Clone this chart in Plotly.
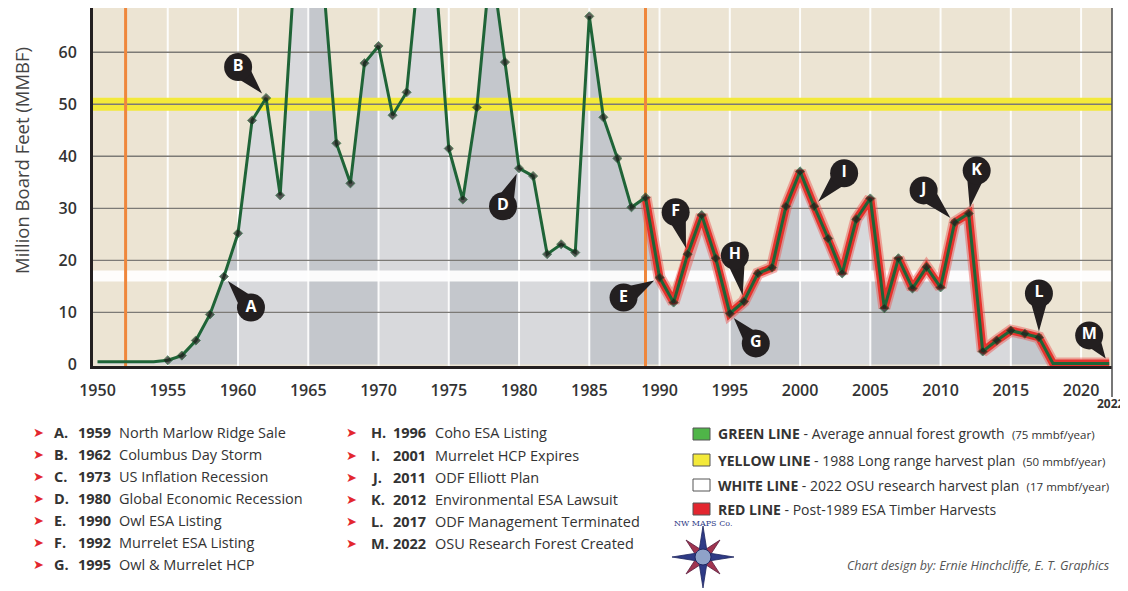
import plotly.graph_objects as go
import numpy as np

# ---------------- data ----------------
years = list(range(1950, 2023))
harvest_mmbf = [0.5, 0.5, 0.5, 0.5, 0.5,
                0.8, 1.7, 4.6, 9.6, 16.9,
                25.2, 46.9, 51.2, 32.5, 75.0,
                85.0, 76.0, 42.5, 34.8, 57.9,
                61.2, 47.9, 52.3, 80.0, 77.0,
                41.5, 31.7, 49.4, 78.0, 58.1,
                37.7, 36.2, 21.2, 23.1, 21.5,
                66.9, 47.5, 39.6, 30.2, 32.1,
                16.7, 11.9, 21.2, 28.7, 20.4,
                9.8, 12.1, 17.5, 18.6, 30.4,
                37.1, 30.4, 24.2, 17.5, 27.9,
                31.9, 10.8, 20.4, 14.6, 18.7,
                14.8, 27.3, 29.0, 2.5, 4.6,
                6.5, 5.9, 5.2, 0.2, 0.2,
                0.2, 0.2, 0.2]

event_letters = ["A", "B", "C", "D", "E", "F", "G", "H", "I", "J", "K", "L", "M"]
event_years = [1959, 1962, 1973, 1980, 1990, 1992, 1995, 1996, 2001, 2011, 2012, 2017, 2022]
event_labels = ["North Marlow Ridge Sale", "Columbus Day Storm", "US Inflation Recession",
                "Global Economic Recession", "Owl ESA Listing", "Murrelet ESA Listing",
                "Owl & Murrelet HCP", "Coho ESA Listing", "Murrelet HCP Expires",
                "ODF Elliott Plan", "Environmental ESA Lawsuit", "ODF Management Terminated",
                "OSU Research Forest Created"]

x_ticks = list(range(1950, 2021, 5))
y_ticks = [0, 10, 20, 30, 40, 50, 60]
esa_start_year = 1989
first_marker_year = 1952
plan_1988 = 50
osu_plan = 17

legend_keys = ["GREEN LINE", "YELLOW LINE", "WHITE LINE", "RED LINE"]
legend_desc = ["Average annual forest growth", "1988 Long range harvest plan",
               "2022 OSU research harvest plan", "Post-1989 ESA Timber Harvests"]
legend_note = ["(75 mmbf/year)", "(50 mmbf/year)", "(17 mmbf/year)", ""]

# ---------------- styling / layout constants (reference-window pixels) ----------------
WIN_W, WIN_H = 1128, 591
BODY = 8  # default page body margin
PL, PR, PT, PB = 93, 1112, 8, 366
X0, X1 = 1949.68, 2022.2
Y0, Y1 = -0.3, 68.5
XS = (PR - PL) / (X1 - X0)
YS = (PB - PT) / (Y1 - Y0)

BEIGE = "#ece4d3"
GRAY_DARK = "#c4c7cc"
GRAY_LIGHT = "#d8d9dc"
GREEN = "#1f6437"
RED = "#e5332d"
ORANGE = "#ef873c"
YELLOW = "#f3e93a"
GRID = "#7c7a76"
FONT = "Open Sans"
TXT = "#333333"

legend_colors = ["#4fb548", YELLOW, "#ffffff", "#e3262f"]
pin_offsets = {"A": (27, 31), "B": (-28, -31), "D": (-16, 38), "E": (-36, 20),
               "F": (-12, -42), "G": (26, 30), "H": (-9, -46), "I": (30, -33),
               "J": (-31, -32), "K": (8, -43), "L": (0, -44), "M": (-20, -28)}


def to_px(x, y):
    return PL + (x - X0) * XS, PB - (y - Y0) * YS


def to_data(px_, py_):
    return X0 + (px_ - PL) / XS, Y0 + (PB - py_) / YS


def pxp(x):
    return (x - PL) / (PR - PL)


def pyp(y):
    return (PB - y) / (PB - PT)


fig = go.Figure()

# area under the curve, alternating 5-year bands
for b in range(1950, 2022, 5):
    e = min(b + 5, 2022)
    xs = [b] + [yr for yr in years if b < yr < e] + [e]
    ys = list(np.interp(xs, years, harvest_mmbf))
    col = GRAY_DARK if (b // 5) % 2 == 1 else GRAY_LIGHT
    fig.add_trace(go.Scatter(x=xs, y=ys, mode="lines", line=dict(width=0, color=col),
                             fill="tozeroy", fillcolor=col, hoverinfo="skip", showlegend=False))

# vertical white grid lines
vx, vy = [], []
for t in x_ticks[1:]:
    vx += [t, t, None]
    vy += [Y0, Y1, None]
fig.add_trace(go.Scatter(x=vx, y=vy, mode="lines", line=dict(color="rgba(255,255,255,0.9)", width=2),
                         hoverinfo="skip", showlegend=False))

# white (OSU plan) band and yellow (1988 plan) band
fig.add_trace(go.Scatter(x=[X0, X1], y=[osu_plan, osu_plan], mode="lines",
                         line=dict(color="rgba(255,255,255,0.92)", width=11),
                         hoverinfo="skip", showlegend=False))
fig.add_trace(go.Scatter(x=[X0, X1], y=[plan_1988, plan_1988], mode="lines",
                         line=dict(color=YELLOW, width=13), hoverinfo="skip", showlegend=False))

# horizontal grid lines
hx, hy = [], []
for t in y_ticks[1:]:
    hx += [X0, X1, None]
    hy += [t, t, None]
fig.add_trace(go.Scatter(x=hx, y=hy, mode="lines", line=dict(color=GRID, width=1.4),
                         hoverinfo="skip", showlegend=False))

# orange markers
ox, oy = [], []
for t in [first_marker_year, esa_start_year]:
    ox += [t, t, None]
    oy += [Y0, Y1, None]
fig.add_trace(go.Scatter(x=ox, y=oy, mode="lines", line=dict(color=ORANGE, width=3),
                         hoverinfo="skip", showlegend=False))

# red post-1989 line
rx = [yr for yr in years if yr >= esa_start_year]
ry = [v for yr, v in zip(years, harvest_mmbf) if yr >= esa_start_year]
fig.add_trace(go.Scatter(x=rx, y=ry, mode="lines", line=dict(color="rgba(235,80,75,0.45)", width=12),
                         hoverinfo="skip", showlegend=False, cliponaxis=False))
fig.add_trace(go.Scatter(x=rx, y=ry, mode="lines", line=dict(color=RED, width=8),
                         hoverinfo="skip", showlegend=False, cliponaxis=False))

# green data line with diamonds
msize = [0 if (yr < 1955 or yr > 2017) else 7 for yr in years]
fig.add_trace(go.Scatter(x=years, y=harvest_mmbf, mode="lines+markers",
                         line=dict(color=GREEN, width=3),
                         marker=dict(symbol="diamond", size=msize, color="#1d1d1b"),
                         showlegend=False))

# callout pins
tri_x, tri_y, hx_, hy_, ht = [], [], [], [], []
for L, yr in zip(event_letters, event_years):
    if L not in pin_offsets:
        continue
    v = float(np.interp(yr, years, harvest_mmbf))
    px_, py_ = to_px(yr, v)
    dx, dy = pin_offsets[L]
    hxp, hyp = px_ + dx, py_ + dy
    d = np.hypot(dx, dy)
    ux, uy = dx / d, dy / d
    tipx, tipy = px_ + ux * 6, py_ + uy * 6
    r = 10.5
    b1 = (hxp - uy * r, hyp + ux * r)
    b2 = (hxp + uy * r, hyp - ux * r)
    for p in [b1, (tipx, tipy), b2, b1]:
        a, c = to_data(*p)
        tri_x.append(a)
        tri_y.append(c)
    tri_x.append(None)
    tri_y.append(None)
    a, c = to_data(hxp, hyp)
    hx_.append(a)
    hy_.append(c)
    ht.append(f"<b>{L}</b>")

fig.add_trace(go.Scatter(x=tri_x, y=tri_y, mode="lines", fill="toself", fillcolor="#231f20",
                         line=dict(width=0, color="#231f20"), hoverinfo="skip",
                         showlegend=False, cliponaxis=False))
fig.add_trace(go.Scatter(x=hx_, y=hy_, mode="markers+text", text=ht,
                         marker=dict(size=28, color="#231f20"),
                         textfont=dict(color="white", size=16, family=FONT),
                         textposition="middle center", hoverinfo="skip",
                         showlegend=False, cliponaxis=False))

# ---------------- annotations ----------------
ann = []


def note(x, y, text, size, color=TXT, xanchor="center", family=FONT, **kw):
    ann.append(dict(x=pxp(x), y=pyp(y), xref="paper", yref="paper", text=text,
                    xanchor=xanchor, yanchor="middle", showarrow=False,
                    font=dict(size=size, color=color, family=family), **kw))


note(21, 161, "Million Board Feet (MMBF)", 18.5, color="#444", textangle=-90)
note(1111, 403, "<b>2022</b>", 12)

row_left = [432, 454, 476, 498, 520, 542, 564]
row_mid = [433, 455, 477, 499, 521, 543]
for i, (L, yr, lab) in enumerate(zip(event_letters, event_years, event_labels)):
    if i < 7:
        yy, xb, xl, xy, xd = row_left[i], 38, 52, 76, 117
    else:
        yy, xb, xl, xy, xd = row_mid[i - 7], 351, 369, 391, 433
    note(xb, yy, "➤", 13, color="#e3262f", family="DejaVu Sans")
    note(xl, yy, f"<b>{L}.</b>", 14.5, xanchor="left")
    note(xy, yy, f"<b>{yr}</b>", 14.5, xanchor="left")
    note(xd, yy, lab, 14.5, xanchor="left")

shapes = []
row_right = [434, 460, 485, 509]
for k, d, n, c, yy in zip(legend_keys, legend_desc, legend_note, legend_colors, row_right):
    shapes.append(dict(type="rect", xref="paper", yref="paper", x0=pxp(693), x1=pxp(710),
                       y0=pyp(yy + 6), y1=pyp(yy - 6), fillcolor=c, line=dict(color="#555", width=1)))
    extra = f"  <span style='font-size:11.5px'>{n}</span>" if n else ""
    note(716, yy, f"<b>{k}</b> - {d}{extra}", 14, xanchor="left")

note(1112, 565, "<i>Chart design by: Ernie Hinchcliffe, E. T. Graphics</i>", 12.5,
     color="#555", xanchor="right")

# logo: compass star drawn as paper-space paths
cx, cy = 703, 557


def star_path(r_out, r_in, n, rot):
    pts = []
    for j in range(2 * n):
        rr = r_out if j % 2 == 0 else r_in
        ang = rot + j * np.pi / n
        pts.append((pxp(cx + rr * np.sin(ang)), pyp(cy - rr * np.cos(ang))))
    return "M " + " L ".join(f"{a:.5f},{b:.5f}" for a, b in pts) + " Z"


shapes.append(dict(type="path", xref="paper", yref="paper", path=star_path(24, 6, 4, np.pi / 4),
                   fillcolor="#a0344f", line=dict(color="#5a2040", width=0.8)))
shapes.append(dict(type="path", xref="paper", yref="paper", path=star_path(31, 6, 4, 0),
                   fillcolor="#2f3b86", line=dict(color="#1e2660", width=0.8)))
shapes.append(dict(type="circle", xref="paper", yref="paper", x0=pxp(cx - 8), x1=pxp(cx + 8),
                   y0=pyp(cy + 8), y1=pyp(cy - 8), fillcolor="#8fa2c8", line=dict(color="#1e2660", width=1)))
note(703, 523, "NW MAPS Co.", 8, color="#2f3b86", family="DejaVu Serif")

# right border and 2022 tick
shapes.append(dict(type="line", xref="paper", yref="paper", x0=1, x1=1, y0=pyp(397), y1=1,
                   line=dict(color="#4a4a4a", width=1.5)))

fig.update_layout(
    width=WIN_W - BODY, height=WIN_H - BODY,
    margin=dict(l=PL - BODY, r=WIN_W - PR, t=PT - BODY, b=WIN_H - PB),
    paper_bgcolor="white", plot_bgcolor=BEIGE,
    annotations=ann, shapes=shapes, showlegend=False,
    xaxis=dict(range=[X0, X1], tickvals=x_ticks, ticktext=[str(t) for t in x_ticks],
               showgrid=False, zeroline=False, showline=True, linecolor="#231f20", linewidth=3,
               ticks="", ticklabelstandoff=8,
               tickfont=dict(size=16, color=TXT, family=FONT, weight=600)),
    yaxis=dict(range=[Y0, Y1], tickvals=y_ticks, showgrid=False, zeroline=False,
               showline=True, linecolor="#231f20", linewidth=3, ticks="", ticklabelstandoff=10,
               tickfont=dict(size=16, color=TXT, family=FONT, weight=600)),
)

fig.write_html("out.html")
